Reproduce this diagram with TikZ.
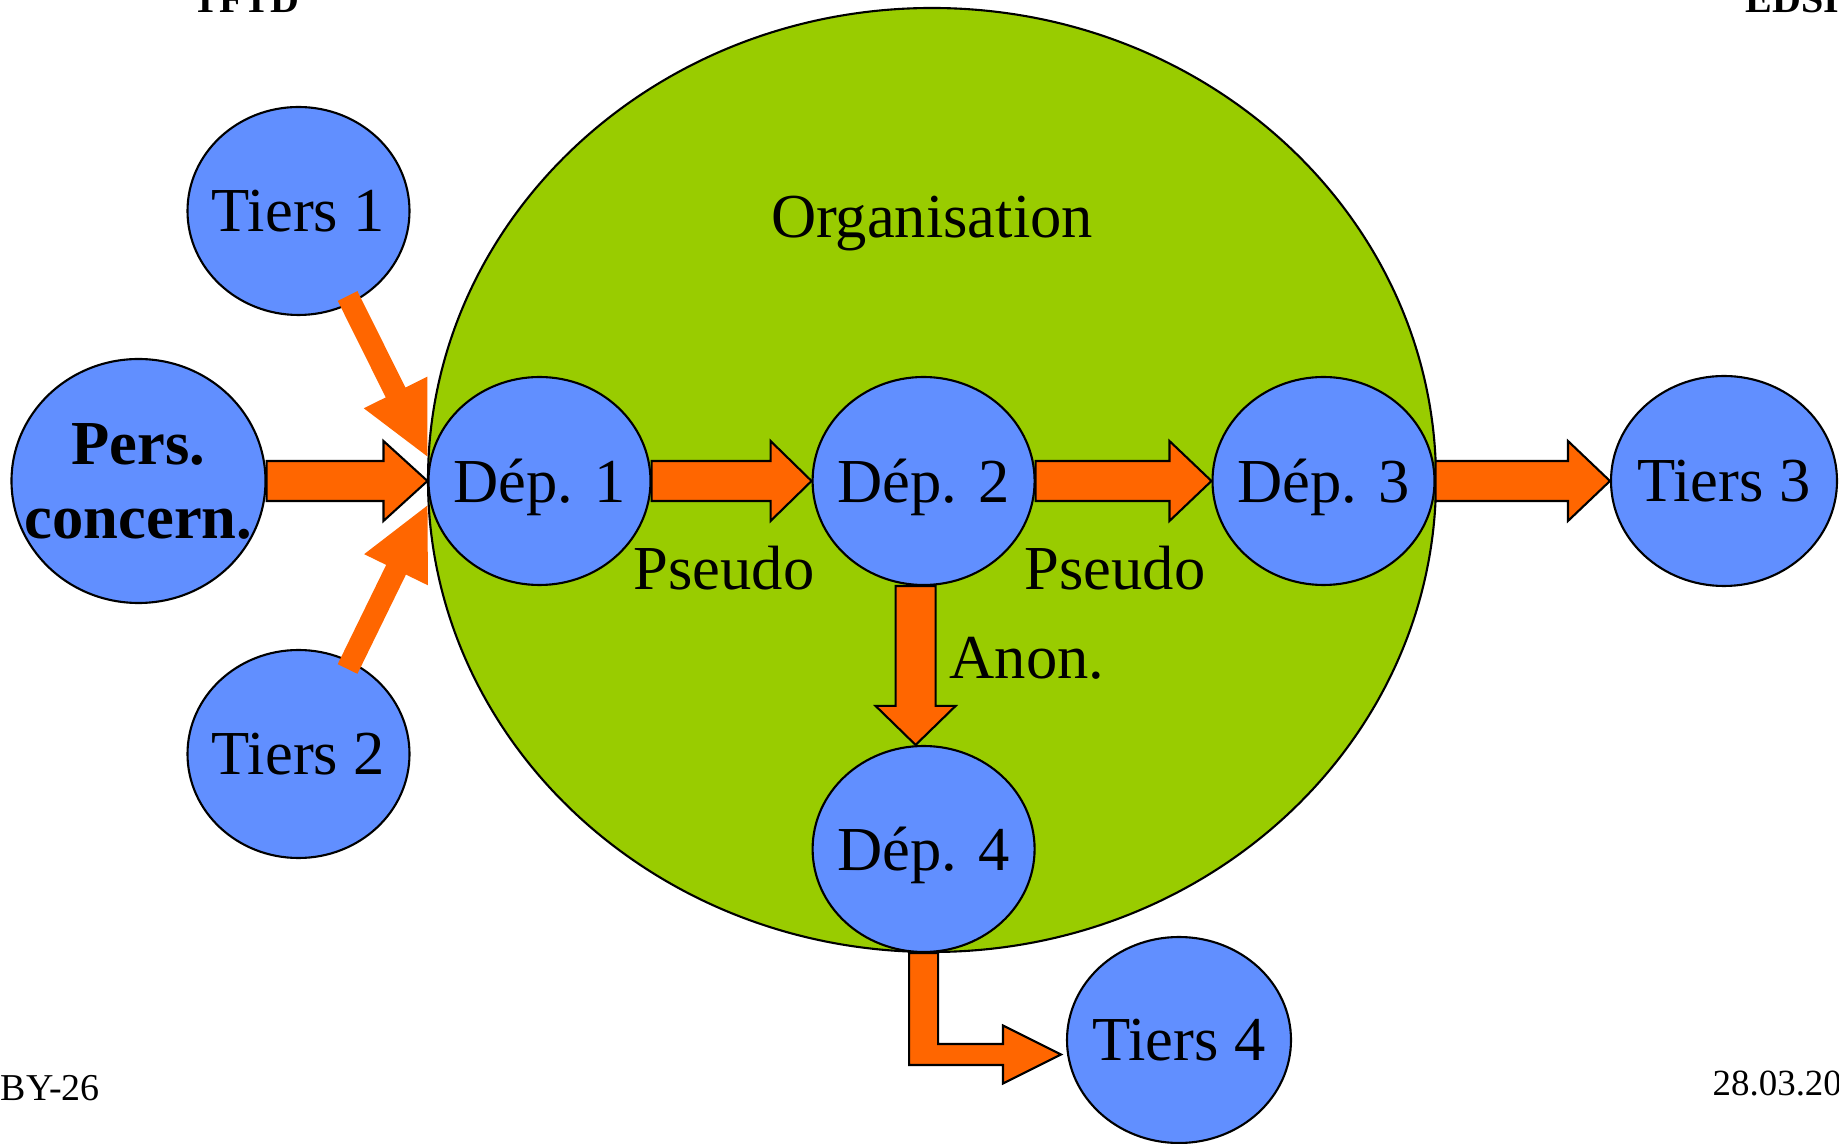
\documentclass[tikz,border=0pt]{standalone}
\usepackage{fontspec}
\setmainfont{Liberation Serif}
\usetikzlibrary{shapes.geometric,calc}
\definecolor{bubblue}{RGB}{97,143,255}
\definecolor{orggreen}{RGB}{153,204,0}
\definecolor{floworange}{RGB}{255,102,0}
% straight block arrow: [style]{start}{tip}{half shaft}{half head}{head length}
\newcommand{\flowarrow}[6][]{%
	\coordinate (hb) at ($(#3)!#6!(#2)$);
	\path[#1] ($(#2)!#4!90:(#3)$) -- ($(hb)!#4!90:(#3)$) -- ($(hb)!#5!90:(#3)$) -- (#3)
		-- ($(hb)!#5!-90:(#3)$) -- ($(hb)!#4!-90:(#3)$) -- ($(#2)!#4!-90:(#3)$) -- cycle;}
\tikzset{
	bubble/.style={ellipse, draw=black, line width=0.6pt, fill=bubblue, inner sep=-0.3cm,
		minimum width=2.22cm, minimum height=2.08cm, text depth=0pt,
		font=\fontsize{17.8}{21.3}\selectfont},
	tag/.style={font=\fontsize{17.8}{21.3}\selectfont, inner sep=0pt},
	blockarr/.style={fill=floworange, draw=black, line width=0.6pt},
	slimarr/.style={fill=floworange},
}
\begin{document}
\begin{tikzpicture}
	\useasboundingbox (0,0) rectangle (18.39,11.43);
	\node[ellipse, draw=black, line width=0.6pt, fill=orggreen, inner sep=0pt,
		minimum width=10.08cm, minimum height=9.44cm] (org) at (9.32,6.63) {};
	\node[tag, anchor=base] (orgname) at (9.32,9.05) {Organisation};
	\node[bubble] (tiers1) at (2.985,9.32) {Tiers 1};
	\node[bubble, minimum width=2.54cm, minimum height=2.44cm, align=center,
		font=\bfseries\fontsize{17.8}{21.3}\selectfont] (pers) at (1.385,6.62) {Pers.\\concern.};
	\node[bubble] (tiers2) at (2.985,3.89) {Tiers 2};
	\node[bubble] (dep1) at (5.395,6.62) {Dép. 1};
	\node[bubble] (dep2) at (9.236,6.62) {Dép. 2};
	\node[bubble] (dep3) at (13.235,6.62) {Dép. 3};
	\node[bubble, minimum width=2.26cm, minimum height=2.1cm] (tiers3) at (17.24,6.62) {Tiers 3};
	\node[bubble, minimum height=2.06cm] (dep4) at (9.236,2.94) {Dép. 4};
	\node[bubble, minimum width=2.24cm, minimum height=2.06cm] (tiers4) at (11.79,1.03) {Tiers 4};

	% arrows into Dép. 1
	\coordinate (s1) at ($(tiers1.center)!0.92!(tiers1.-60)$);
	\coordinate (t1) at ($(dep1.west)+(0,0.245)$);
	\coordinate (s2) at ($(tiers2.center)!0.92!(tiers2.60)$);
	\coordinate (t2) at ($(dep1.west)+(0,-0.245)$);
	\flowarrow[slimarr]{s1}{t1}{0.11cm}{0.355cm}{0.715cm}
	\flowarrow[slimarr]{s2}{t2}{0.11cm}{0.355cm}{0.715cm}
	\flowarrow[blockarr]{pers.east}{dep1.west}{0.2cm}{0.4cm}{0.44cm}
	% along the chain
	\flowarrow[blockarr]{dep1.east}{dep2.west}{0.2cm}{0.4cm}{0.41cm}
	\flowarrow[blockarr]{dep2.east}{dep3.west}{0.2cm}{0.4cm}{0.42cm}
	\flowarrow[blockarr]{dep3.east}{tiers3.west}{0.2cm}{0.4cm}{0.42cm}
	\coordinate (d2s) at ($(dep2.south)+(-0.08,0)$);
	\coordinate (d4n) at ($(dep4.north)+(-0.08,0)$);
	\flowarrow[blockarr]{d2s}{d4n}{0.2cm}{0.4cm}{0.39cm}
	% bent arrow to Tiers 4
	\coordinate (t4tip) at ($(tiers4.west)+(-0.05,-0.145)$);
	\filldraw[blockarr] ($(dep4.south)+(-0.145,0)$) |- ($(t4tip)+(-0.58,-0.105)$) -- ++(0,-0.185)
		-- (t4tip) -- ($(t4tip)+(-0.58,0.29)$) -- ++(0,-0.185) -| ($(dep4.south)+(0.145,0)$) -- cycle;

	\node[tag] (pseudo1) at (7.24,5.75) {Pseudo};
	\node[tag] (pseudo2) at (11.15,5.75) {Pseudo};
	\node[tag] (anon) at (10.27,4.85) {Anon.};

	% page header and footer
	\node[anchor=base west, inner sep=0pt, font=\bfseries\fontsize{11.4}{13}\selectfont] (headl) at (1.92,11.30) {TFTD};
	\node[anchor=base west, inner sep=0pt, font=\bfseries\fontsize{11.4}{13}\selectfont] (headr) at (17.45,11.30) {EDSI};
	\node[anchor=base west, inner sep=0pt, font=\fontsize{10.8}{12}\selectfont] (footl) at (0,0.43) {BY-26};
	\node[anchor=base west, inner sep=0pt, font=\fontsize{10.5}{12}\selectfont] (footr) at (17.12,0.48) {28.03.20};
\end{tikzpicture}
\end{document}
